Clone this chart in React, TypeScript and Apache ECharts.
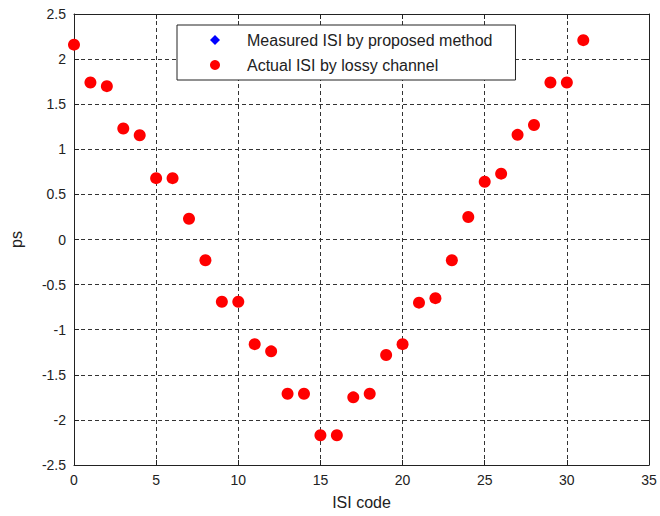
import React, { useEffect, useRef } from "react";
import * as echarts from "echarts";

const isiCodes = [0,1,2,3,4,5,6,7,8,9,10,11,12,13,14,15,16,17,18,19,20,21,22,23,24,25,26,27,28,29,30,31];
const actualISI = [2.16,1.74,1.70,1.23,1.155,0.68,0.68,0.23,-0.23,-0.69,-0.69,-1.16,-1.24,-1.71,-1.71,-2.17,-2.17,-1.75,-1.71,-1.28,-1.16,-0.70,-0.65,-0.23,0.25,0.64,0.73,1.16,1.27,1.74,1.74,2.21];
const measuredISI = [2.16,1.74,1.70,1.24,1.165,0.68,0.68,0.23,-0.23,-0.69,-0.69,-1.15,-1.23,-1.70,-1.70,-2.17,-2.17,-1.75,-1.70,-1.28,-1.16,-0.70,-0.65,-0.23,0.25,0.64,0.73,1.16,1.28,1.74,1.74,2.21];
const seriesNames = ["Measured ISI by proposed method", "Actual ISI by lossy channel"];

const FONT = "Liberation Sans";
const AX = "#222";

export default function App() {
  const ref = useRef<HTMLDivElement>(null);
  useEffect(() => {
    const chart = echarts.init(ref.current!, null, { renderer: "svg" });
    const grid = { left: 73, right: 11, top: 14, bottom: 51 };
    const split = { show: true, lineStyle: { color: "#333", type: [4, 3] as any, width: 1 } };
    chart.setOption({
      animation: false,
      backgroundColor: "#fff",
      textStyle: { fontFamily: FONT },
      grid,
      legend: {
        left: 177,
        top: 25,
        orient: "vertical",
        backgroundColor: "#fff",
        borderColor: AX,
        borderWidth: 1,
        padding: [7, 23, 7, 33],
        itemWidth: 10,
        itemHeight: 10,
        itemGap: 9,
        textStyle: { fontFamily: FONT, fontSize: 16, color: "#222", padding: [0, 0, 0, 22] },
        data: [
          { name: seriesNames[0], icon: "diamond", itemStyle: { color: "#0000ff" } },
          { name: seriesNames[1], icon: "circle", itemStyle: { color: "#ff0000" } },
        ],
      },
      xAxis: [
        {
          type: "value",
          min: 0,
          max: 35,
          interval: 5,
          name: "ISI code",
          nameLocation: "middle",
          nameGap: 29,
          nameTextStyle: { fontFamily: FONT, fontSize: 16, color: "#222" },
          axisLine: { show: true, onZero: false, lineStyle: { color: AX } },
          axisTick: { show: true, inside: true, length: 5, lineStyle: { color: AX } },
          axisLabel: { fontFamily: FONT, fontSize: 14, color: "#222", margin: 8 },
          splitLine: split,
        },
        {
          type: "value",
          position: "top",
          min: 0,
          max: 35,
          interval: 5,
          axisLine: { show: true, onZero: false, lineStyle: { color: AX } },
          axisTick: { show: true, inside: true, length: 5, lineStyle: { color: AX } },
          axisLabel: { show: false },
          splitLine: { show: false },
        },
      ],
      yAxis: [
        {
          type: "value",
          min: -2.5,
          max: 2.5,
          interval: 0.5,
          name: "ps",
          nameLocation: "middle",
          nameGap: 50,
          nameTextStyle: { fontFamily: FONT, fontSize: 16, color: "#222" },
          axisLine: { show: true, onZero: false, lineStyle: { color: AX } },
          axisTick: { show: true, inside: true, length: 5, lineStyle: { color: AX } },
          axisLabel: { fontFamily: FONT, fontSize: 14, color: "#222", margin: 8 },
          splitLine: split,
        },
        {
          type: "value",
          position: "right",
          min: -2.5,
          max: 2.5,
          interval: 0.5,
          axisLine: { show: true, onZero: false, lineStyle: { color: AX } },
          axisTick: { show: true, inside: true, length: 5, lineStyle: { color: AX } },
          axisLabel: { show: false },
          splitLine: { show: false },
        },
      ],
      series: [
        {
          name: seriesNames[0],
          type: "scatter",
          symbol: "diamond",
          symbolSize: 9,
          itemStyle: { color: "#0000ff", opacity: 1 },
          data: isiCodes.map((x, i) => [x, measuredISI[i]]),
          z: 2,
        },
        {
          name: seriesNames[1],
          type: "scatter",
          symbol: "circle",
          symbolSize: 12,
          itemStyle: { color: "#ff0000", opacity: 1 },
          data: isiCodes.map((x, i) => [x, actualISI[i]]),
          z: 3,
        },
      ],
    });
    return () => chart.dispose();
  }, []);
  return <div ref={ref} style={{ width: 660, height: 516, position: "absolute", left: 0, top: 0 }} />;
}
